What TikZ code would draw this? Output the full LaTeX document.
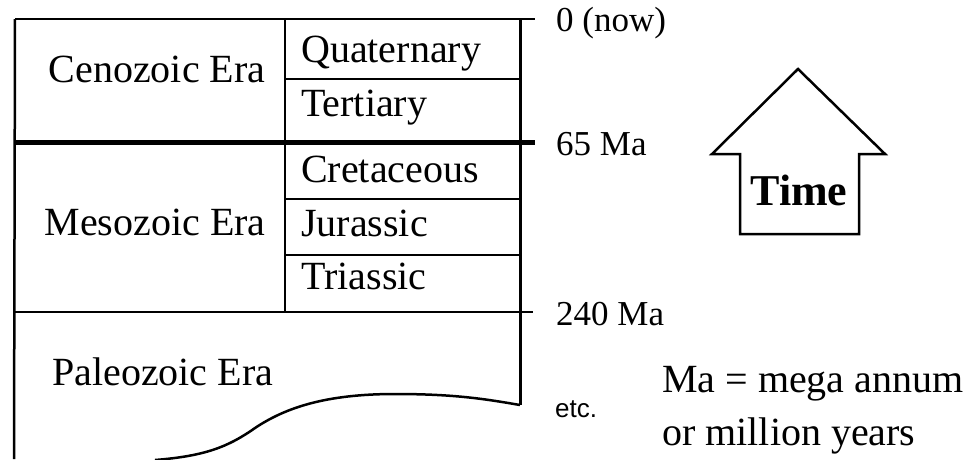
\documentclass[tikz,border=0pt]{standalone}
\usepackage{fontspec}
\setmainfont{Liberation Serif}
\setsansfont{Liberation Sans}
\begin{document}
\begin{tikzpicture}[x=1pt,y=-1pt,
  rule/.style={line width=2.5pt},
  thickrule/.style={line width=5pt},
  lbl/.style={inner sep=0pt,anchor=base west,font=\fontsize{40}{42}\selectfont},
  era/.style={inner sep=0pt,anchor=base,font=\fontsize{40}{42}\selectfont},
  tick/.style={inner sep=0pt,anchor=base west,font=\fontsize{35}{38}\selectfont},
  note/.style={inner sep=0pt,anchor=base west,font=\fontsize{40}{42}\selectfont},
  arrowshape/.style={line width=2.5pt,line join=miter}]
\useasboundingbox (0,0) rectangle (979,459);
% coordinates
\coordinate (TL) at (15,19);
\coordinate (TR) at (535,19);
\coordinate (RB) at (520,405);
\coordinate (BL) at (14,459);
% frame
\draw[rule] (TL) -- (BL);
\draw[rule] (TL) -- (TR);
\draw[line width=3pt] (520,19) -- (RB);
\draw[rule] (285,19) -- (285,312);
\draw[rule] (285,79) -- (520,79);
\draw[thickrule] (15,142) -- (535,142);
\draw[rule] (285,199) -- (520,199);
\draw[rule] (285,255) -- (520,255);
\draw[rule] (15,312) -- (533,312);
% wavy bottom
\draw[line width=2.5pt] (RB) .. controls (485,399) and (455,394) .. (395,394)
  .. controls (325,394) and (285,408) .. (255,428)
  .. controls (228,447) and (205,456) .. (155,460);
% era texts
\node[era] (ceno) at (157,82) {Cenozoic Era};
\node[era] (meso) at (155,235) {Mesozoic Era};
\node[lbl] (paleo) at (52,385) {Paleozoic Era};
% period texts
\node[lbl] (quat) at (301,62) {Quaternary};
\node[lbl] (tert) at (301,116) {Tertiary};
\node[lbl] (cret) at (301,182) {Cretaceous};
\node[lbl] (jura) at (301,236) {Jurassic};
\node[lbl] (tria) at (301,289) {Triassic};
% ticks
\node[tick] (now) at (556,31) {0 (now)};
\node[tick] (m65) at (556,155) {65 Ma};
\node[tick] (m240) at (556,325) {240 Ma};
\node[inner sep=0pt,anchor=base west,font=\sffamily\fontsize{26}{28}\selectfont] (etc) at (555,417) {etc.};
% note
\node[note] (ma1) at (662,392) {Ma = mega annum};
\node[note] (ma2) at (662,445) {or million years};
% arrow
\draw[arrowshape] (740,234) -- (740,154) -- (712,154) -- (798,69) -- (885,154) -- (859,154) -- (859,234) -- cycle;
\node[inner sep=0pt,anchor=base,font=\bfseries\fontsize{44}{46}\selectfont] (time) at (799,205) {Time};
\end{tikzpicture}
\end{document}
